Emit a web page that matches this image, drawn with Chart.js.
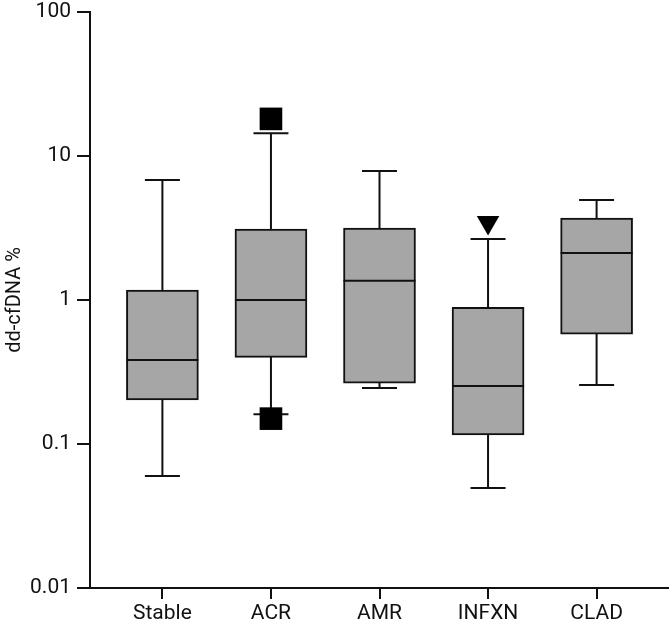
<!DOCTYPE html>
<html>
<head>
<meta charset="utf-8">
<script src="https://cdn.jsdelivr.net/npm/chart.js@4.4.0/dist/chart.umd.min.js"></script>
<style>
  html, body { margin: 0; padding: 0; background: #fff; }
  #wrap { width: 669px; height: 631px; }
</style>
</head>
<body>
<div id="wrap"><canvas id="boxChart"></canvas></div>
<script>
// Box plot data (dd-cfDNA %)
var groups = ["Stable", "ACR", "AMR", "INFXN", "CLAD"];
var whiskerLow = [0.06, 0.161, 0.245, 0.0495, 0.257];
var q1 = [0.202, 0.40, 0.265, 0.1155, 0.58];
var median = [0.383, 1.0, 1.36, 0.253, 2.12];
var q3 = [1.17, 3.11, 3.16, 0.89, 3.71];
var whiskerHigh = [6.8, 14.4, 7.87, 2.65, 4.95];

// outliers
var acrOutliers = [18.1, 0.150];
var infxnOutliers = [3.45];

var yTicks = [0.01, 0.1, 1, 10, 100];
var yTickLabels = ["0.01", "0.1", "1", "10", "100"];

var fontFamily = "Roboto, 'DejaVu Sans', sans-serif";

var boxData = groups.map(function (g, i) {
    return { x: i, y: [q1[i], q3[i]] };
});

var acrPoints = acrOutliers.map(function (v) { return { x: 1, y: v }; });
var infxnPoints = infxnOutliers.map(function (v) { return { x: 3, y: v }; });

// whiskers + median lines, drawn with the chart scales
var whiskerPlugin = {
    id: 'whiskers',
    beforeDatasetsDraw: function (chart) {
        var ctx = chart.ctx, xs = chart.scales.x, ys = chart.scales.y;
        ctx.save();
        ctx.strokeStyle = '#111';
        ctx.lineWidth = 2;
        groups.forEach(function (g, i) {
            var x = xs.getPixelForValue(i);
            var capHalf = 17.5;
            ctx.beginPath();
            ctx.moveTo(x, ys.getPixelForValue(whiskerHigh[i]));
            ctx.lineTo(x, ys.getPixelForValue(whiskerLow[i]));
            ctx.moveTo(x - capHalf, ys.getPixelForValue(whiskerHigh[i]));
            ctx.lineTo(x + capHalf, ys.getPixelForValue(whiskerHigh[i]));
            ctx.moveTo(x - capHalf, ys.getPixelForValue(whiskerLow[i]));
            ctx.lineTo(x + capHalf, ys.getPixelForValue(whiskerLow[i]));
            ctx.stroke();
        });
        ctx.restore();
    },
    afterDatasetsDraw: function (chart) {
        var ctx = chart.ctx, xs = chart.scales.x, ys = chart.scales.y;
        ctx.save();
        ctx.strokeStyle = '#111';
        ctx.lineWidth = 2;
        groups.forEach(function (g, i) {
            var x = xs.getPixelForValue(i);
            var y = ys.getPixelForValue(median[i]);
            ctx.beginPath();
            ctx.moveTo(x - 36, y);
            ctx.lineTo(x + 36, y);
            ctx.stroke();
        });
        ctx.restore();
    }
};

var ctx = document.getElementById('boxChart');

var config = {
    type: 'bar',
    data: {
        datasets: [
            {
                type: 'bar',
                data: boxData,
                backgroundColor: '#a6a6a6',
                borderColor: '#111',
                borderWidth: 2,
                borderSkipped: false,
                barThickness: 72
            },
            {
                type: 'scatter',
                data: acrPoints,
                pointStyle: 'rect',
                pointRadius: 16,
                backgroundColor: '#000',
                borderColor: '#000',
                borderWidth: 0
            },
            {
                type: 'scatter',
                data: infxnPoints,
                pointStyle: 'triangle',
                rotation: 180,
                pointRadius: 13,
                backgroundColor: '#000',
                borderColor: '#000',
                borderWidth: 0
            }
        ]
    },
    options: {
        responsive: true,
        maintainAspectRatio: false,
        animation: false,
        layout: { autoPadding: false, padding: { top: 12, right: 0, left: 3, bottom: 0 } },
        plugins: {
            legend: { display: false },
            tooltip: { enabled: false }
        },
        scales: {
            x: {
                type: 'linear',
                offset: false,
                min: -0.667,
                max: 4.667,
                afterBuildTicks: function (scale) {
                    scale.ticks = groups.map(function (g, i) { return { value: i }; });
                },
                afterFit: function (scale) {
                    scale.height = 43;
                    scale.paddingLeft = 0;
                    scale.paddingRight = 0;
                },
                grid: { offset: false, drawOnChartArea: false, drawTicks: true, tickLength: 11, color: '#111', lineWidth: 2 },
                border: { display: true, color: '#111', width: 2 },
                ticks: {
                    color: '#111',
                    padding: 2,
                    autoSkip: false,
                    maxRotation: 0,
                    font: { family: fontFamily, size: 21 },
                    callback: function (v) { return groups[v]; }
                }
            },
            y: {
                type: 'logarithmic',
                min: 0.01,
                max: 100,
                afterBuildTicks: function (scale) {
                    scale.ticks = yTicks.map(function (v) { return { value: v, major: true }; });
                },
                afterFit: function (scale) {
                    scale.width = 87;
                    scale.paddingTop = 0;
                    scale.paddingBottom = 0;
                },
                grid: { drawOnChartArea: false, drawTicks: true, tickLength: 13, color: '#111', lineWidth: 2 },
                border: { display: true, color: '#111', width: 2 },
                title: {
                    display: true,
                    text: 'dd-cfDNA %',
                    color: '#111',
                    padding: 0,
                    font: { family: fontFamily, size: 20 }
                },
                ticks: {
                    color: '#111',
                    padding: 6,
                    font: { family: fontFamily, size: 21 },
                    callback: function (v) {
                        var i = yTicks.indexOf(v);
                        return i >= 0 ? yTickLabels[i] : '';
                    }
                }
            }
        }
    },
    plugins: [whiskerPlugin]
};

var boxChart = new Chart(ctx, config);
</script>
</body>
</html>
